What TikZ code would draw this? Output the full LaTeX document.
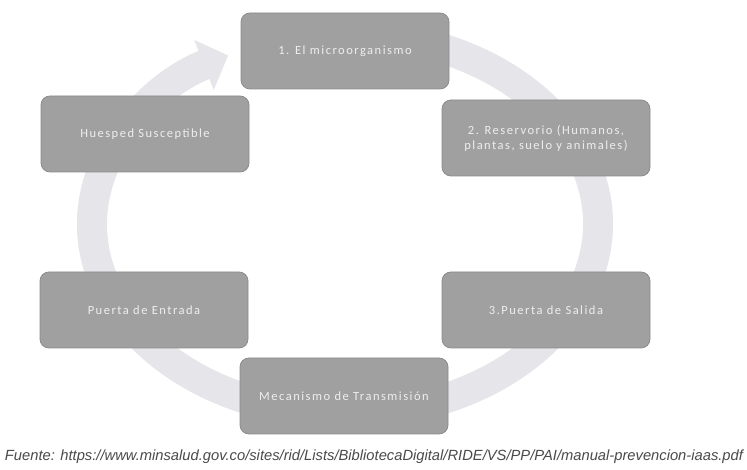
\documentclass[tikz,border=0pt]{standalone}
\usepackage{fontspec}
\setmainfont{Carlito}
\newfontfamily\boxfont[LetterSpace=12]{Carlito}
\newfontfamily\footfont{Liberation Sans}
\usetikzlibrary{arrows.meta}
\definecolor{ringc}{HTML}{E5E5EA}
\definecolor{boxc}{HTML}{A0A0A0}
\definecolor{boxline}{HTML}{8C8C8C}
\definecolor{txtc}{HTML}{EEEEEE}
\definecolor{footc}{HTML}{4A4A4A}
\begin{document}
\begin{tikzpicture}[x=1pt,y=1pt,
  stage/.style={rectangle, rounded corners=9pt, fill=boxc, draw=boxline, line width=0.8pt,
    minimum width=208pt, minimum height=76pt, text=txtc,
    font=\boxfont\fontsize{12.5}{15}\selectfont, align=center, inner sep=2pt},
  ring/.style={draw=ringc, line width=30pt, line cap=butt, -{Triangle[width=52pt,length=26pt]}},
  src/.style={text=footc, inner sep=0pt, font=\footfont\itshape}]
\useasboundingbox (0,0) rectangle (747,470);
\fill[white] (0,0) rectangle (747,470);
\coordinate (c) at (345,246);
\draw[ring] (c) ++(78:253 and 190) arc[start angle=78, end angle=-242.5, x radius=253, y radius=190];
\node[stage] (b1) at (345,419) {1. El microorganismo};
\node[stage] (b2) at (546,332) {2. Reservorio (Humanos,\\plantas, suelo y animales)};
\node[stage] (b3) at (546,160) {3.Puerta de Salida};
\node[stage] (b4) at (344,74) {Mecanismo de Transmisión};
\node[stage] (b5) at (144,160) {Puerta de Entrada};
\node[stage] (b6) at (145,336) {Huesped Susceptible};
\node[src] (fuente) at (374,13) {\resizebox{738pt}{!}{Fuente: https://www.minsalud.gov.co/sites/rid/Lists/BibliotecaDigital/RIDE/VS/PP/PAI/manual-prevencion-iaas.pdf}};
\end{tikzpicture}
\end{document}
